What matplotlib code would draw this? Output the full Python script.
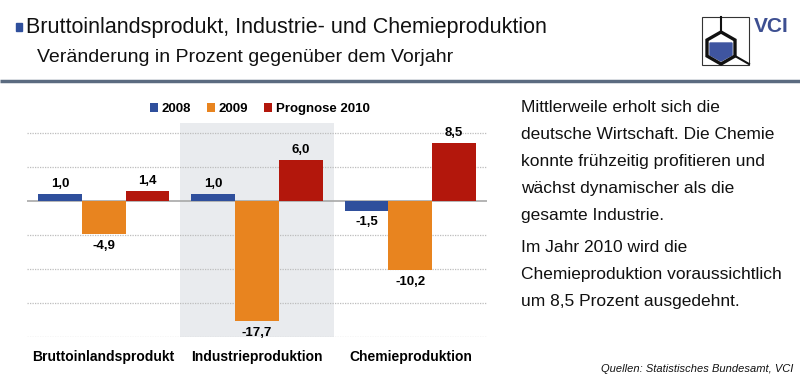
import numpy as np
import matplotlib
matplotlib.use("Agg")
import matplotlib.pyplot as plt
from matplotlib.patches import Polygon, Rectangle

# Daten
kategorien = ["Bruttoinlandsprodukt", "Industrieproduktion", "Chemieproduktion"]
serien = ["2008", "2009", "Prognose 2010"]
werte_2008 = [1.0, 1.0, -1.5]
werte_2009 = [-4.9, -17.7, -10.2]
werte_2010 = [1.4, 6.0, 8.5]
farben = ["#2f4f9c", "#e8841f", "#b3170c"]

plt.rcParams['font.family'] = ['Liberation Sans', 'DejaVu Sans']

fig = plt.figure(figsize=(8, 3.88), dpi=100)

# Deko-Ebene in Pixelkoordinaten
deko = fig.add_axes([0, 0, 1, 1])
deko.set_xlim(0, 800)
deko.set_ylim(388, 0)
deko.axis('off')

deko.add_patch(Rectangle((16, 23), 6, 8, color="#2f4f9c"))
deko.text(26, 27, "Bruttoinlandsprodukt, Industrie- und Chemieproduktion",
          fontsize=15.5, va='center', ha='left', color="#111111")
deko.text(37, 58, "Veränderung in Prozent gegenüber dem Vorjahr",
          fontsize=14, va='center', ha='left', color="#111111")
deko.plot([0, 800], [81, 81], color="#5b6b80", lw=2.5, solid_capstyle='butt')

# Logo
deko.add_patch(Rectangle((702, 17), 47, 48, fill=False, ec="#333333", lw=0.8))
deko.add_patch(Polygon([(710, 43), (732, 43), (732, 55), (721, 61), (710, 55)],
                       closed=True, color="#3f55a0"))
hexa = [(721, 32), (735, 40), (735, 56), (721, 64), (707, 56), (707, 40)]
deko.add_patch(Polygon(hexa, closed=True, fill=False, ec="#111111", lw=2.4))
deko.plot([721, 721], [17, 32], color="#111111", lw=1.5)
deko.plot([735, 749], [56, 64], color="#111111", lw=1.5)
deko.text(754, 27, "VCI", fontsize=15, fontweight='bold', color="#3d4f91",
          va='center', ha='left', family=['Liberation Sans Narrow', 'Liberation Sans'])

# Text rechts
absatz1 = ["Mittlerweile erholt sich die", "deutsche Wirtschaft. Die Chemie",
           "konnte frühzeitig profitieren und", "wächst dynamischer als die",
           "gesamte Industrie."]
absatz2 = ["Im Jahr 2010 wird die", "Chemieproduktion voraussichtlich",
           "um 8,5 Prozent ausgedehnt."]
for i, z in enumerate(absatz1):
    deko.text(521, 108 + i * 26.8, z, fontsize=12.5, va='center', ha='left', color="#111111")
for i, z in enumerate(absatz2):
    deko.text(521, 248 + i * 26.8, z, fontsize=12.5, va='center', ha='left', color="#111111")
deko.text(793, 369, "Quellen: Statistisches Bundesamt, VCI", fontsize=8,
          style='italic', va='center', ha='right', color="#111111")

# Diagramm
ax = fig.add_axes([0.03375, 0.1314, 0.575, 0.5516])
x = np.arange(len(kategorien))
b = 0.285
ax.axvspan(0.5, 1.5, color="#e9ebee", zorder=0, lw=0)
for yv in [10, 5, -5, -10, -15, -20]:
    ax.axhline(yv, color="#bdbdbd", lw=0.9, ls=(0, (1, 1)), zorder=1)
ax.axhline(0, color="#a8a8a8", lw=1.2, zorder=1)

for k, (vals, farbe) in enumerate(zip([werte_2008, werte_2009, werte_2010], farben)):
    bars = ax.bar(x + (k - 1) * b, vals, width=b, color=farbe, zorder=2, label=serien[k])
    for r, v in zip(bars, vals):
        txt = f"{v:.1f}".replace(".", ",")
        cx = r.get_x() + r.get_width() / 2
        if v >= 0:
            ax.annotate(txt, (cx, v), xytext=(0, 3), textcoords='offset points',
                        ha='center', va='bottom', fontsize=9.5, fontweight='bold')
        else:
            ax.annotate(txt, (cx, v), xytext=(0, -4), textcoords='offset points',
                        ha='center', va='top', fontsize=9.5, fontweight='bold')

ax.set_xlim(-0.5, 2.5)
ax.set_ylim(-20, 11.4)
ax.axis('off')

for xi, name in zip(x, kategorien):
    ax.text(xi, -22.9, name, ha='center', va='center',
            fontsize=10, fontweight='bold')

leg = fig.legend(loc='center', bbox_to_anchor=(260 / 800, 1 - 109 / 388), ncol=3,
                 frameon=False, handlelength=0.6, handleheight=0.6,
                 handletextpad=0.3, columnspacing=1.2, prop={'weight': 'bold', 'size': 9.5})

fig.savefig("out.png", dpi=100)
